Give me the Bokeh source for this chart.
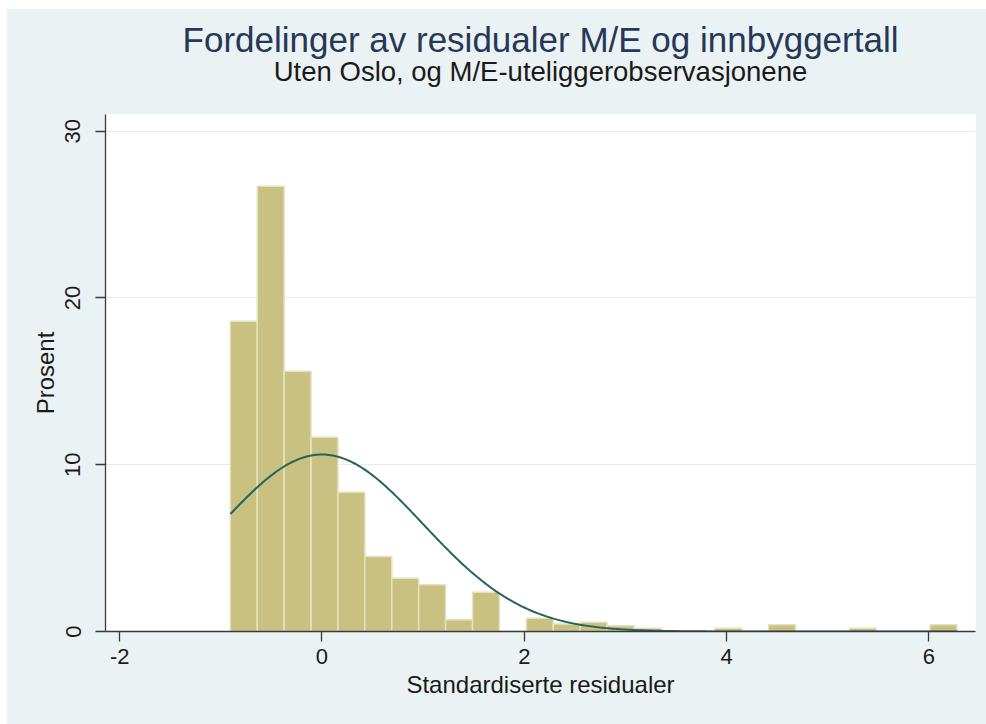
import numpy as np
from bokeh.plotting import figure
from bokeh.models import Title, Range1d, FixedTicker
from bokeh.embed import file_html
from bokeh.resources import INLINE

# ---- data ----
title_text = "Fordelinger av residualer M/E og innbyggertall"
subtitle_text = "Uten Oslo, og M/E-uteliggerobservasjonene"
x_label = "Standardiserte residualer"
y_label = "Prosent"

bin_start = -0.906
bin_width = 0.266
percent = [18.6, 26.7, 15.6, 11.65, 8.35, 4.5, 3.2, 2.8, 0.7, 2.35, 0.0,
           0.8, 0.45, 0.55, 0.35, 0.2, 0.0, 0.0, 0.2, 0.0, 0.4, 0.0, 0.0,
           0.2, 0.0, 0.0, 0.4]
norm_mean = 0.0
norm_sd = 1.0
x_ticks = [-2, 0, 2, 4, 6]
x_tick_labels = ["-2", "0", "2", "4", "6"]
y_ticks = [0, 10, 20, 30]

# ---- derived ----
n_bins = len(percent)
lefts = [bin_start + i * bin_width for i in range(n_bins)]
rights = [l + bin_width for l in lefts]
bin_end = rights[-1]
xs = np.linspace(bin_start, bin_end, 400)
dens = 100 * bin_width * np.exp(-0.5 * ((xs - norm_mean) / norm_sd) ** 2) / (norm_sd * np.sqrt(2 * np.pi))

BG = "#EAF2F3"
FONT = "Liberation Sans"

p = figure(width=980, height=716,
           x_range=Range1d(-2.14, 6.46), y_range=Range1d(0, 31.0),
           output_backend="svg", toolbar_location=None, title_location=None,
           background_fill_color="white", border_fill_color=BG,
           outline_line_color=None,
           min_border_left=99, min_border_right=11,
           min_border_top=106, min_border_bottom=93)
p.styles = {"margin-left": "6px", "margin-top": "8px"}

p.add_layout(Title(text=subtitle_text, align="center", text_font=FONT,
                   text_font_size="27.5px", text_font_style="normal",
                   text_color="#1a1a1a", standoff=56), "above")
p.add_layout(Title(text=title_text, align="center", text_font=FONT,
                   text_font_size="35px", text_font_style="normal",
                   text_color="#263758", standoff=-66), "above")

p.quad(left=lefts, right=rights, bottom=0, top=percent,
       fill_color="#C9C182", line_color="#E6E2BE", line_width=1.5)
p.line(xs, dens, line_color="#28635A", line_width=2)

p.xgrid.visible = False
p.ygrid.grid_line_color = "#E2ECEF"
p.ygrid.grid_line_width = 1

for ax in (p.xaxis[0], p.yaxis[0]):
    ax.axis_line_color = "#3a3a3a"
    ax.axis_line_width = 1.3
    ax.major_tick_line_color = "#3a3a3a"
    ax.major_tick_line_width = 1.3
    ax.major_tick_in = 0
    ax.major_tick_out = 10
    ax.minor_tick_line_color = None
    ax.major_label_text_font = FONT
    ax.major_label_text_font_size = "22px"
    ax.major_label_text_color = "#1a1a1a"
    ax.axis_label_text_font = FONT
    ax.axis_label_text_font_size = "24px"
    ax.axis_label_text_font_style = "normal"
    ax.axis_label_text_color = "#1a1a1a"

p.xaxis.ticker = FixedTicker(ticks=x_ticks)
p.xaxis.major_label_overrides = {t: s for t, s in zip(x_ticks, x_tick_labels)}
p.yaxis.ticker = FixedTicker(ticks=y_ticks)
p.xaxis.axis_label = x_label
p.yaxis.axis_label = y_label
p.yaxis.major_label_orientation = "vertical"
p.xaxis.major_label_standoff = 7
p.yaxis.major_label_standoff = 15
p.xaxis.axis_label_standoff = 4
p.yaxis.axis_label_standoff = 4

open("out.html", "w").write(file_html(p, INLINE))
